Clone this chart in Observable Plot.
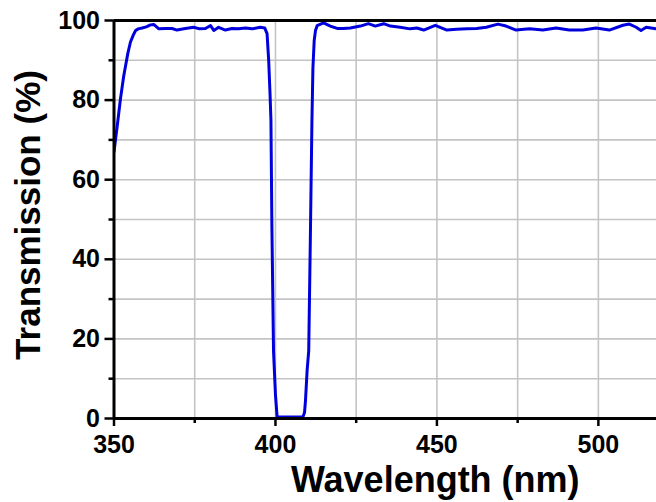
<!DOCTYPE html>
<html>
<head>
<meta charset="utf-8">
<script src="https://cdn.jsdelivr.net/npm/d3@7"></script>
<script src="https://cdn.jsdelivr.net/npm/@observablehq/plot@0.6"></script>
<style>
  html, body { margin: 0; padding: 0; background: #fff; }
</style>
</head>
<body>
<div id="chart"></div>
<script>
const wavelength = [350, 351, 352, 353, 353.6, 354.3, 355.1, 356, 356.7, 357.5, 358.7, 360, 361.3, 362.3, 363.9, 366, 368, 369.5, 372.1, 374.7, 376.5, 378.3, 379.9, 380.9, 382.4, 384.5, 386.5, 388.6, 390.7, 392.8, 395.3, 396.7, 397.4, 397.9, 398.3, 398.6, 398.9, 399.4, 400, 400.5, 401, 408.5, 409, 409.3, 409.8, 410.3, 410.8, 411.3, 411.6, 412, 412.4, 412.9, 414.9, 417, 419.1, 421, 423.2, 426.3, 428.8, 430.9, 433.5, 435.6, 438.6, 441.7, 443.8, 445.9, 449.5, 451, 453.1, 456, 459.3, 462.3, 465.3, 468.9, 471.4, 474.5, 478.7, 482.8, 486.9, 491, 495.2, 499.3, 503.4, 507.6, 509.6, 511.7, 513.2, 514.8, 517.8, 520];
const transmission = [67, 73.5, 80.3, 86, 88.7, 91.8, 94.6, 96.4, 97.5, 97.9, 98.1, 98.4, 98.9, 99.0, 97.9, 98.0, 98.0, 97.6, 98.0, 98.3, 97.9, 98.0, 98.7, 97.5, 98.3, 97.6, 98.0, 97.9, 98.1, 97.9, 98.3, 98.1, 96.7, 90, 82, 75, 48, 17, 6, 0.5, 0.4, 0.4, 1.5, 4.5, 12, 17, 45, 75, 88, 95, 97.5, 98.7, 99.4, 98.6, 98.0, 98.0, 98.1, 98.6, 99.2, 98.6, 99.2, 98.6, 98.3, 97.9, 98.1, 97.6, 98.8, 98.3, 97.6, 97.8, 97.9, 98.0, 98.3, 99.1, 98.6, 97.6, 97.9, 97.6, 98.1, 97.6, 97.6, 98.1, 97.6, 98.8, 99.1, 98.3, 97.5, 98.3, 97.9, 97.9];

const xMajorTicks = [350, 400, 450, 500];
const xMinorTicks = [375, 425, 475];
const yMajorTicks = [0, 20, 40, 60, 80, 100];
const yMinorTicks = [10, 30, 50, 70, 90];
const xGrid = [375, 400, 425, 450, 475, 500];
const yGrid = [10, 20, 30, 40, 50, 60, 70, 80, 90];
const xTitle = "Wavelength (nm)";
const yTitle = "Transmission (%)";

const data = wavelength.map((w, i) => ({w, t: transmission[i]}));

const chart = Plot.plot({
  width: 656,
  height: 502,
  marginLeft: 113.5,
  marginRight: 0,
  marginTop: 20,
  marginBottom: 84,
  style: {fontFamily: "'Liberation Sans', Arial, sans-serif", fontWeight: "bold", color: "#000", background: "#fff"},
  x: {domain: [350, 518]},
  y: {domain: [0, 100]},
  marks: [
    Plot.gridX(xGrid, {stroke: "#c4c4c4", strokeOpacity: 1, strokeWidth: 1.6}),
    Plot.gridY(yGrid, {stroke: "#c4c4c4", strokeOpacity: 1, strokeWidth: 1.6}),
    Plot.line(data, {x: "w", y: "t", stroke: "#0000dd", strokeWidth: 3, clip: true}),
    Plot.ruleY([0], {stroke: "#000", strokeWidth: 3}),
    Plot.ruleY([100], {stroke: "#000", strokeWidth: 3}),
    Plot.ruleX([350], {stroke: "#000", strokeWidth: 3}),
    Plot.axisX(xMajorTicks, {label: null, tickSize: 8, tickPadding: 9, fontSize: 25, fontWeight: "bold", strokeWidth: 2.5, stroke: "#000"}),
    Plot.axisX(xMinorTicks, {label: null, tickSize: 5, tickFormat: () => "", strokeWidth: 2.5, stroke: "#000"}),
    Plot.axisY(yMajorTicks, {label: null, tickSize: 9, tickPadding: 5, fontSize: 25, fontWeight: "bold", strokeWidth: 2.5, stroke: "#000"}),
    Plot.axisY(yMinorTicks, {label: null, tickSize: 5, tickFormat: () => "", strokeWidth: 2.5, stroke: "#000"}),
    Plot.text([xTitle], {text: d => d, frameAnchor: "bottom", textAnchor: "middle", lineAnchor: "bottom", dx: 50, dy: 73, fontSize: 36, fontWeight: "bold", fill: "#000"}),
    Plot.text([yTitle], {text: d => d, frameAnchor: "left", textAnchor: "middle", lineAnchor: "bottom", rotate: -90, dx: -74.5, dy: -4.5, fontSize: 35, fontWeight: "bold", fill: "#000"})
  ]
});
document.getElementById("chart").appendChild(chart);
</script>
</body>
</html>
